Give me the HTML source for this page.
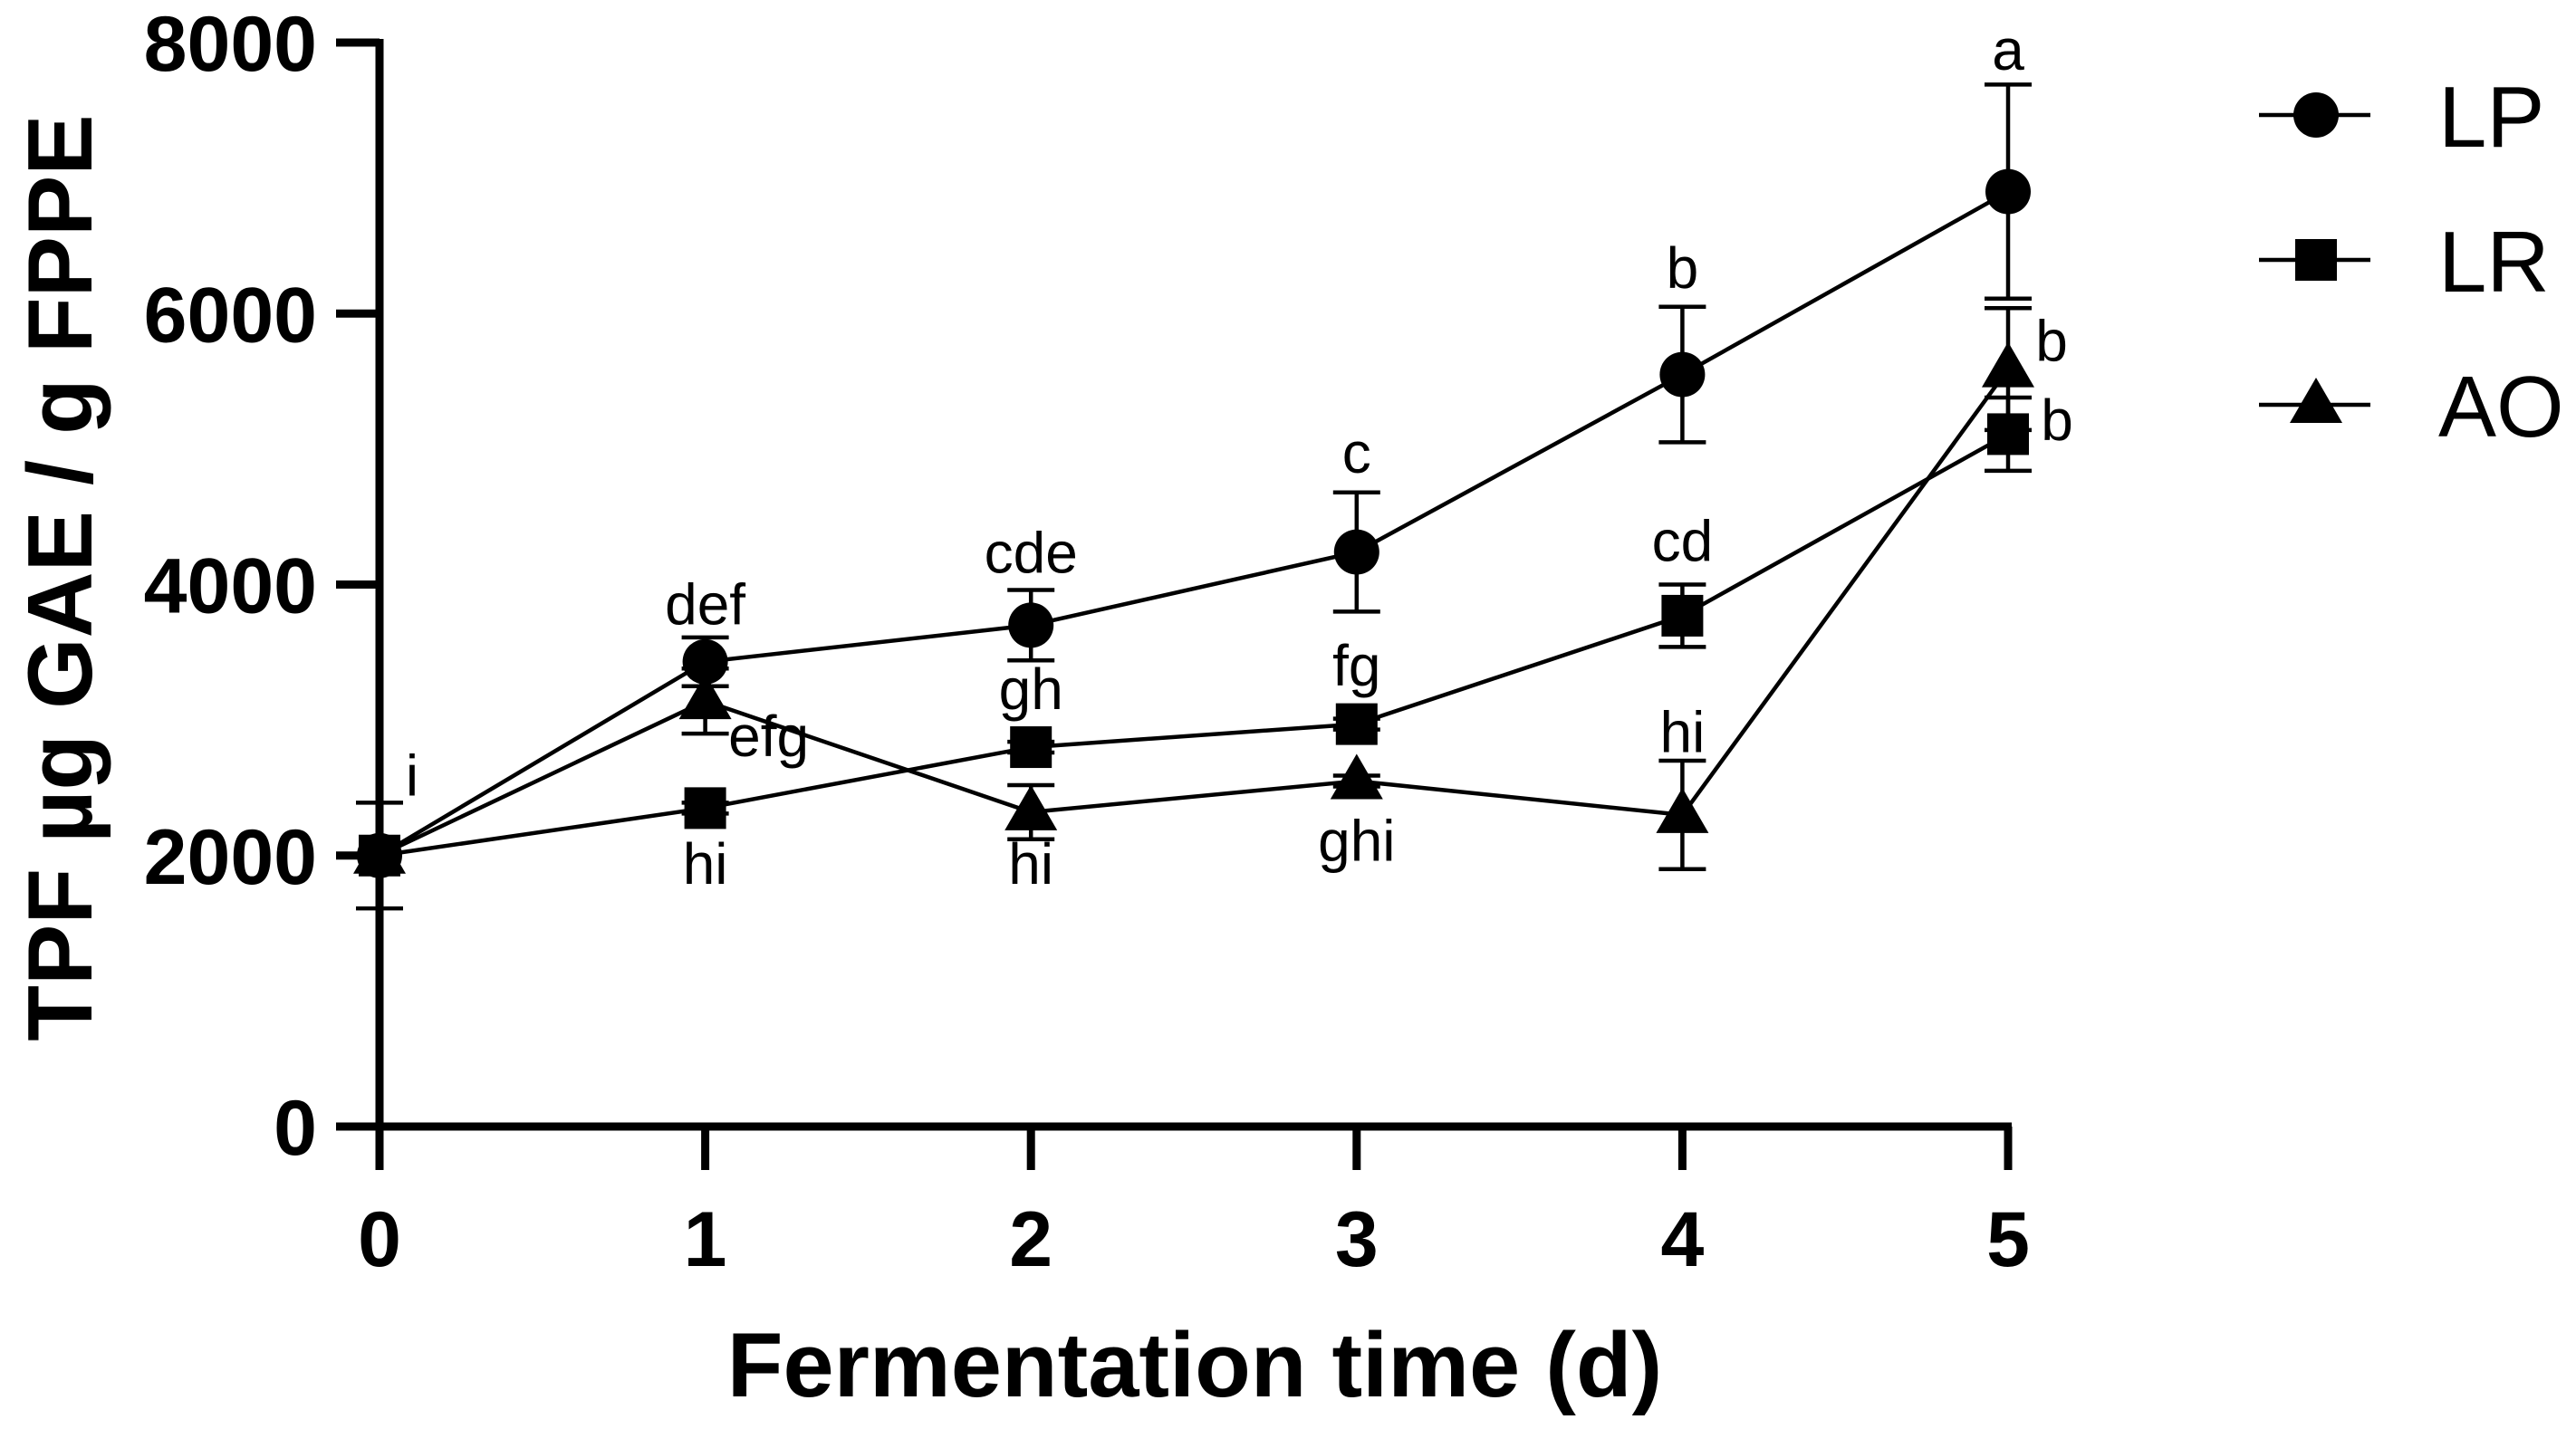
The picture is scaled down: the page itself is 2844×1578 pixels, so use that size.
<!DOCTYPE html>
<html><head><meta charset="utf-8"><style>
html,body{margin:0;padding:0;background:#fff;}
svg{display:block;font-family:"Liberation Sans",Arial,sans-serif;}
</style></head><body>
<svg id="chart" width="2844" height="1578" viewBox="0 0 2844 1578" xmlns="http://www.w3.org/2000/svg">
<g id="axes"></g><g id="series"></g><g id="labels"></g><g id="legend"></g>
</svg>
<script>
const days = [0,1,2,3,4,5];
const yTicks = [0,2000,4000,6000,8000];
const lpValues = [2000,3430,3700,4240,5550,6900];
const lpErrors = [390,180,260,440,500,790];
const lrValues = [2000,2350,2800,2970,3770,5110];
const lrErrors = [0,40,40,40,230,270];
const aoValues = [2000,3140,2320,2550,2300,5590];
const aoErrors = [0,240,200,40,400,450];
const letterTexts = ['i','def','efg','hi','cde','gh','hi','c','fg','ghi','b','cd','hi','a','b','b'];
const letterDays = [0,1,1,1,2,2,2,3,3,3,4,4,4,5,5,5];
const letterValues = [2443,3705,2732,1792,4087,3081,1792,4826,3255,1960,6188,4174,2765,7799,5651,5067];
const letterDx = [36,0,70,0,0,0,0,0,0,0,0,0,0,0,48,54];

const NS='http://www.w3.org/2000/svg';
const X0=419, DX=359.6, Y0=1244, YK=(1244-47)/8000;
const xs=d=>X0+d*DX, ys=v=>Y0-v*YK;
function mk(tag,attrs,parent,text){const e=document.createElementNS(NS,tag);for(const k in attrs)e.setAttribute(k,attrs[k]);if(text!==undefined)e.textContent=text;parent.appendChild(e);return e;}
const axes=document.getElementById('axes'), series=document.getElementById('series'), labels=document.getElementById('labels'), legend=document.getElementById('legend');

let e;
e=mk('line',{x1:X0,y1:ys(8000)-4,x2:X0,y2:Y0+48,stroke:'#000','stroke-width':9},axes);


e=mk('line',{x1:X0-4,y1:Y0,x2:xs(5)+4,y2:Y0,stroke:'#000','stroke-width':9},axes);


yTicks.forEach(v=>{
  e=mk('line',{x1:X0-48,y1:ys(v),x2:X0,y2:ys(v),stroke:'#000','stroke-width':9},axes);
  
  
  e=mk('text',{x:350,y:ys(v)+31,'text-anchor':'end','font-size':86,'font-weight':'bold'},axes,String(v));
  
  
});
days.forEach(d=>{
  e=mk('line',{x1:xs(d),y1:Y0,x2:xs(d),y2:Y0+48,stroke:'#000','stroke-width':9},axes);
  
  
  e=mk('text',{x:xs(d),y:1398,'text-anchor':'middle','font-size':86,'font-weight':'bold'},axes,String(d));
  
  
});
e=mk('text',{x:1319,y:1542,'text-anchor':'middle','font-size':101,'font-weight':'bold'},axes,'Fermentation time (d)');


e=mk('text',{x:0,y:0,'text-anchor':'middle','font-size':101,'font-weight':'bold',transform:'translate(101,638) rotate(-90)'},axes,'TPF µg GAE / g FPPE');



function marker(kind,cx,cy,parent,name){
  let m;
  if(kind==='circle') m=mk('circle',{cx:cx,cy:cy,r:25,fill:'#000'},parent);
  else if(kind==='square') m=mk('rect',{x:cx-23,y:cy-23,width:46,height:46,fill:'#000'},parent);
  else m=mk('polygon',{points:`${cx},${cy-30} ${cx+29},${cy+20} ${cx-29},${cy+20}`,fill:'#000'},parent);
  
  
}
function drawSeries(vals,errs,kind,name){
  const g=mk('g',{},series);
  
  
  const pts=days.map((d,i)=>xs(d)+','+ys(vals[i])).join(' ');
  e=mk('polyline',{points:pts,fill:'none',stroke:'#000','stroke-width':4.5},g);
  
  
  days.forEach((d,i)=>{
    const x=xs(d), lo=ys(vals[i]-errs[i]), hi=ys(vals[i]+errs[i]);
    if(errs[i]>0){
      const eb=mk('path',{d:`M${x},${hi}V${lo}M${x-26},${hi}H${x+26}M${x-26},${lo}H${x+26}`,stroke:'#000','stroke-width':4.5,fill:'none'},g);
      
      
    }
    marker(kind,x,ys(vals[i]),g,name+'-point');
  });
}
drawSeries(lpValues,lpErrors,'circle','lp');
drawSeries(aoValues,aoErrors,'triangle','ao');
drawSeries(lrValues,lrErrors,'square','lr');

letterTexts.forEach((t,i)=>{
  e=mk('text',{x:xs(letterDays[i])+letterDx[i],y:ys(letterValues[i]),'text-anchor':'middle','font-size':64},labels,t);
  
  
});

const legNames=['LP','LR','AO'], legKinds=['circle','square','triangle'], legY=[127,287,447];
legNames.forEach((n,i)=>{
  const g=mk('g',{},legend);
  
  
  e=mk('line',{x1:2494,y1:legY[i],x2:2617,y2:legY[i],stroke:'#000','stroke-width':4.5},g);
  
  
  marker(legKinds[i],2557,legY[i],g,'legend-marker');
  e=mk('text',{x:2692,y:legY[i]+35,'font-size':96},g,n);
  
  
});
</script>
</body></html>
